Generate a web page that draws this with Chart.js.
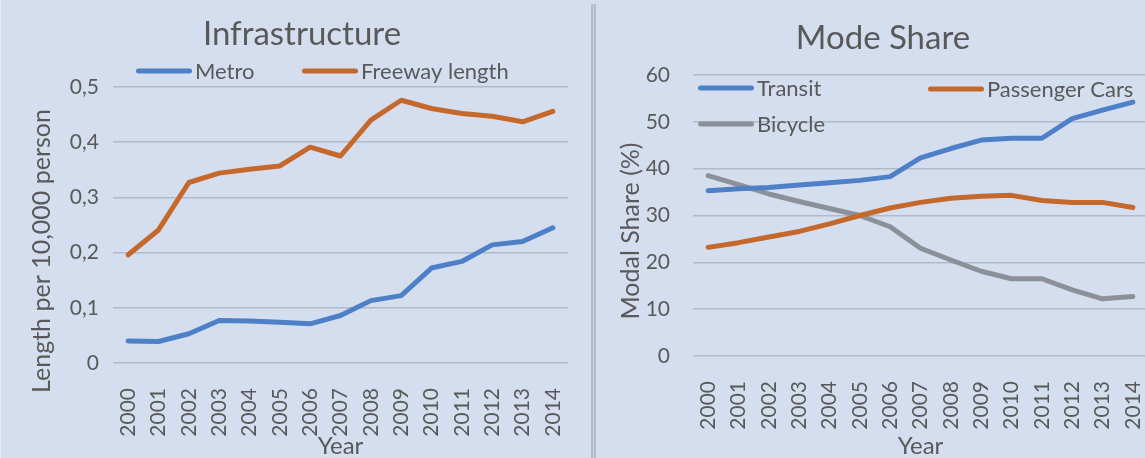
<!DOCTYPE html>
<html>
<head>
<meta charset="utf-8">
<script src="https://cdn.jsdelivr.net/npm/chart.js@4.4.0/dist/chart.umd.min.js"></script>
<style>
  html, body { margin: 0; padding: 0; width: 1145px; height: 458px; overflow: hidden; background: #d5deef; }
  #left  { position: absolute; left: 0; top: 0; width: 590px; height: 458px; }
  #right { position: absolute; left: 597px; top: 0; width: 560px; height: 458px; }
  #sep   { position: absolute; left: 591px; top: 4px; width: 1px; height: 454px; background: #c9d1df;
           border-left: 2px solid #b4bdcf; border-right: 2px solid #b4bdcf; }
  #edge  { position: absolute; left: 0; top: 0; width: 1px; height: 458px; background: #e4e9f4; }
</style>
</head>
<body>
<div id="left"><canvas id="infra"></canvas></div>
<div id="sep"></div>
<div id="right"><canvas id="mode"></canvas></div>
<div id="edge"></div>
<script>
/* ── DATA ── */
const years = ['2000','2001','2002','2003','2004','2005','2006','2007','2008','2009','2010','2011','2012','2013','2014'];

// Infrastructure (length per 10,000 person)
const metro   = [0.040, 0.039, 0.053, 0.077, 0.076, 0.074, 0.071, 0.086, 0.113, 0.122, 0.172, 0.184, 0.214, 0.220, 0.245];
const freeway = [0.196, 0.241, 0.327, 0.344, 0.351, 0.357, 0.391, 0.375, 0.440, 0.476, 0.461, 0.452, 0.447, 0.437, 0.456];
const infraTicks = [0, 0.1, 0.2, 0.3, 0.4, 0.5];

// Mode share (%)
const transit       = [35.3, 35.7, 36.0, 36.5, 37.0, 37.5, 38.3, 42.3, 44.3, 46.1, 46.5, 46.5, 50.7, 52.5, 54.2];
const passengerCars = [23.2, 24.2, 25.4, 26.6, 28.2, 30.0, 31.6, 32.8, 33.7, 34.1, 34.3, 33.2, 32.8, 32.8, 31.7];
const bicycle       = [38.5, 36.6, 34.6, 33.0, 31.5, 30.0, 27.6, 23.0, 20.5, 18.1, 16.5, 16.5, 14.1, 12.2, 12.7];
const modeTicks = [0, 10, 20, 30, 40, 50, 60];

/* ── STYLE ── */
const TEXT   = '#595959';
const GRID   = '#b1bacb';
const BLUE   = '#4d80c6';
const ORANGE = '#c5682c';
const GREY   = '#8c9099';
const FONT   = 'Lato';

// title, legend and rotated y title are drawn by hand to sit where Excel put them
const overlay = {
  id: 'overlay',
  afterDraw(chart, args, o) {
    const ctx = chart.ctx;
    ctx.save();
    ctx.fillStyle = TEXT;
    ctx.font = '33px ' + FONT;
    ctx.textAlign = 'center';
    ctx.textBaseline = 'alphabetic';
    ctx.fillText(o.title, o.titleX, o.titleY);

    ctx.font = '22px ' + FONT;
    ctx.textAlign = 'left';
    o.legend.forEach((p, i) => {
      const ds = chart.data.datasets[i];
      ctx.strokeStyle = ds.borderColor;
      ctx.lineWidth = 5;
      ctx.lineCap = 'round';
      ctx.beginPath();
      ctx.moveTo(p.x + 2.5, p.y);
      ctx.lineTo(p.x + 53.5, p.y);
      ctx.stroke();
      ctx.fillText(ds.label, p.x + 59, p.y + 8);
    });

    ctx.translate(o.yx, o.yy);
    ctx.rotate(-Math.PI / 2);
    ctx.font = '25px ' + FONT;
    ctx.textAlign = 'center';
    ctx.textBaseline = 'middle';
    ctx.fillText(o.yTitle, 0, 0);
    ctx.restore();
  }
};

function lineSet(label, data, color) {
  return {
    label, data,
    borderColor: color, backgroundColor: color,
    borderWidth: 5, pointRadius: 0, tension: 0,
    borderCapStyle: 'round', borderJoinStyle: 'round'
  };
}

function makeChart(id, datasets, yOpts, layout, ov) {
  return new Chart(document.getElementById(id), {
    type: 'line',
    data: { labels: years, datasets },
    plugins: [overlay],
    options: {
      responsive: true,
      maintainAspectRatio: false,
      animation: false,
      layout: { padding: layout.padding },
      plugins: { legend: { display: false }, tooltip: { enabled: false }, overlay: ov },
      scales: {
        x: {
          offset: true,
          grid: { display: false },
          border: { display: false },
          ticks: { color: TEXT, font: { family: FONT, size: 21 }, minRotation: 90, maxRotation: 90, padding: layout.xPad },
          title: { display: true, text: 'Year', color: TEXT, font: { family: FONT, size: 24, lineHeight: 1 }, padding: { top: 0, bottom: 0 } },
          afterFit: s => { s.height = layout.xHeight; s.paddingLeft = 0; s.paddingRight = 0; }
        },
        y: Object.assign({
          grid: { color: GRID, lineWidth: 1.6, drawTicks: false },
          border: { display: false },
          afterFit: s => { s.width = layout.yWidth; }
        }, yOpts)
      }
    }
  });
}

/* ── INFRASTRUCTURE ── */
makeChart('infra',
  [lineSet('Metro', metro, BLUE), lineSet('Freeway length', freeway, ORANGE)],
  {
    min: infraTicks[0], max: infraTicks[infraTicks.length - 1],
    afterBuildTicks: s => { s.ticks = infraTicks.map(v => ({ value: v })); },
    ticks: { color: TEXT, font: { family: FONT, size: 21 }, padding: 14,
             callback: v => v === 0 ? '0' : v.toFixed(1).replace('.', ',') }
  },
  { padding: { top: 87, right: 22, bottom: 0, left: 0 }, xHeight: 95, yWidth: 113, xPad: 17 },
  { title: 'Infrastructure', titleX: 302, titleY: 45,
    legend: [{ x: 136, y: 71 }, { x: 302, y: 71 }],
    yTitle: 'Length per 10,000 person', yx: 42, yy: 251 }
);

/* ── MODE SHARE ── */
makeChart('mode',
  [lineSet('Transit', transit, BLUE), lineSet('Passenger Cars', passengerCars, ORANGE), lineSet('Bicycle', bicycle, GREY)],
  {
    min: modeTicks[0], max: modeTicks[modeTicks.length - 1],
    afterBuildTicks: s => { s.ticks = modeTicks.map(v => ({ value: v })); },
    ticks: { color: TEXT, font: { family: FONT, size: 21 }, padding: 23 }
  },
  { padding: { top: 75, right: 9, bottom: 0, left: 0 }, xHeight: 102, yWidth: 96, xPad: 17 },
  { title: 'Mode Share', titleX: 286, titleY: 49,
    legend: [{ x: 101, y: 88 }, { x: 331, y: 89 }, { x: 101, y: 124 }],
    yTitle: 'Modal Share (%)', yx: 34, yy: 231 }
);
</script>
</body>
</html>
